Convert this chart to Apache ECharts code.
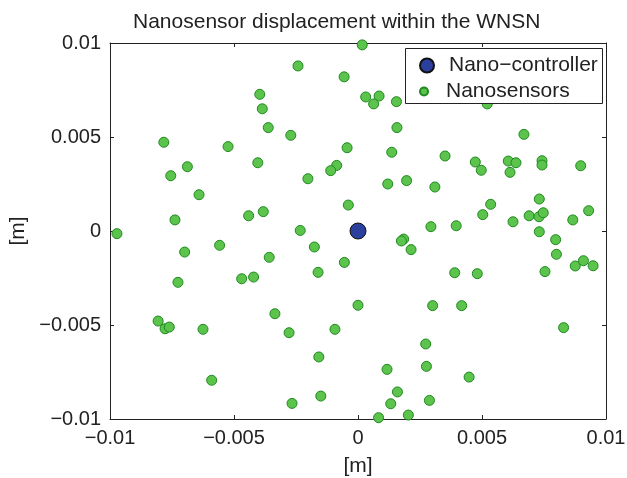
<!DOCTYPE html>
<html>
<head>
<meta charset="utf-8">
<script src="https://cdn.jsdelivr.net/npm/echarts@6/dist/echarts.min.js"></script>
<style>html,body{margin:0;padding:0;background:#fff;}#c{width:627px;height:478px;}</style>
</head>
<body>
<div id="c"></div>
<script>
var titleText = 'Nanosensor displacement within the WNSN';
var seriesNames = ['Nano\u2212controller', 'Nanosensors'];
var xTickLabels = ['\u22120.01', '\u22120.005', '0', '0.005', '0.01'];
var yTickLabels = ['\u22120.01', '\u22120.005', '0', '0.005', '0.01'];
var controllerX = [0];
var controllerY = [0];
var sensorX = [0.00017,-0.00242,-0.00056,-0.00396,-0.00386,-0.00362,-0.00271,-0.00783,-0.00524,-0.00044,
  -0.00688,-0.00404,-0.00086,-0.0011,-0.00755,-0.00202,-0.00641,-0.00039,-0.00738,-0.00441,
  -0.00382,-0.00233,-0.00972,0.00031,0.00085,0.00063,0.00155,0.00521,0.00157,0.00669,
  0.00136,0.00351,0.00473,0.00497,0.00606,0.00637,0.00613,0.00742,0.00742,0.00898,
  0.0012,0.00196,0.0031,0.00731,0.00535,0.00503,0.00625,0.0069,0.0073,0.00747,
  0.00866,0.0093,0.00294,0.00396,0.00731,0.00797,0.008,0.00754,0.00876,0.00909,
  0.00948,0.00184,0.00175,0.00214,0.0039,0.00481,0.0,0.00301,0.00418,0.00829,
  0.00273,0.00276,0.00117,0.00448,0.00159,0.00288,0.00132,0.00203,0.00083,-0.00699,
  -0.00558,-0.00176,-0.00358,-0.00055,-0.00726,-0.00469,-0.00421,-0.00161,-0.00335,-0.00806,
  -0.00778,-0.00761,-0.00625,-0.00278,-0.00093,-0.00158,-0.0059,-0.0015,-0.00266];
var sensorY = [0.0099,0.00878,0.0082,0.00727,0.0065,0.0055,0.00509,0.00472,0.00449,0.00443,
  0.00342,0.00363,0.00349,0.00321,0.00294,0.00278,0.00193,0.00138,0.00059,0.00081,
  0.00103,0.00003,-0.00014,0.00713,0.00718,0.00676,0.00688,0.00676,0.0055,0.00514,
  0.00419,0.00399,0.00367,0.00323,0.00372,0.00363,0.00312,0.00374,0.00351,0.00347,
  0.0025,0.00268,0.00234,0.0017,0.00142,0.00087,0.00049,0.00081,0.00076,0.00097,
  0.00059,0.00108,0.00023,0.00028,-0.00004,-0.00046,-0.00124,-0.00216,-0.00186,-0.00158,
  -0.00185,-0.00043,-0.00053,-0.00099,-0.00222,-0.00227,-0.00395,-0.00397,-0.00397,-0.00514,
  -0.00601,-0.0072,-0.00736,-0.00777,-0.00856,-0.00901,-0.00919,-0.00979,-0.00993,-0.00112,
  -0.00076,-0.00085,-0.0014,-0.00167,-0.00273,-0.00254,-0.00245,-0.0022,-0.0044,-0.00479,
  -0.0052,-0.00511,-0.00523,-0.00541,-0.00523,-0.0067,-0.00794,-0.00878,-0.00917];

function zip(a, b) { return a.map(function (v, i) { return [v, b[i]]; }); }
function labelFor(list) {
  return function (v) {
    var idx = Math.round((v + 0.01) / 0.005);
    return list[idx] !== undefined ? list[idx] : '';
  };
}

var FONT = 'Liberation Sans, Arial, Helvetica, sans-serif';
var frameLine = { show: true, onZero: false, lineStyle: { color: '#222', width: 1 } };
var tickIn = { show: true, inside: true, length: 4, lineStyle: { color: '#222' } };

var chart = echarts.init(document.getElementById('c'), null, { renderer: 'canvas' });
chart.setOption({
  animation: false,
  backgroundColor: '#fff',
  title: {
    text: titleText, left: 133, top: 12, padding: 0,
    textStyle: { fontFamily: FONT, fontSize: 21, fontWeight: 'normal', color: '#222' }
  },
  grid: { left: 110, top: 43, width: 496, height: 376, containLabel: false, outerBoundsMode: 'none' },
  xAxis: [{
    type: 'value', min: -0.01, max: 0.01, interval: 0.005, position: 'bottom',
    name: '[m]', nameLocation: 'middle', nameGap: 37,
    nameTextStyle: { fontFamily: FONT, fontSize: 21, color: '#222' },
    axisLine: frameLine, axisTick: tickIn, splitLine: { show: false },
    axisLabel: { formatter: labelFor(xTickLabels), margin: 9, fontFamily: FONT, fontSize: 20, color: '#222' }
  }, {
    type: 'value', min: -0.01, max: 0.01, interval: 0.005, position: 'top',
    axisLine: frameLine, axisTick: tickIn, splitLine: { show: false }, axisLabel: { show: false }
  }],
  yAxis: [{
    type: 'value', min: -0.01, max: 0.01, interval: 0.005, position: 'left',
    name: '[m]', nameLocation: 'middle', nameGap: 71, nameRotate: 90,
    nameTextStyle: { fontFamily: FONT, fontSize: 21, color: '#222' },
    axisLine: frameLine, axisTick: tickIn, splitLine: { show: false },
    axisLabel: { formatter: labelFor(yTickLabels), margin: 9, fontFamily: FONT, fontSize: 20, color: '#222' }
  }, {
    type: 'value', min: -0.01, max: 0.01, interval: 0.005, position: 'right',
    axisLine: frameLine, axisTick: tickIn, splitLine: { show: false }, axisLabel: { show: false }
  }],
  legend: [{
    data: [{ name: seriesNames[0], icon: 'circle' }],
    orient: 'vertical', left: 419, top: 55, padding: 0,
    itemWidth: 34, itemHeight: 14, z: 20,
    textStyle: { fontFamily: FONT, fontSize: 21, color: '#222' }
  }, {
    data: [{ name: seriesNames[1], icon: 'circle' }],
    orient: 'vertical', left: 419, top: 81, padding: 0,
    itemWidth: 34, itemHeight: 8, z: 20,
    textStyle: { fontFamily: FONT, fontSize: 21, color: '#222' }
  }],
  graphic: [{
    type: 'rect', left: 405, top: 48, z: 10,
    shape: { width: 197, height: 55 },
    style: { fill: '#fff', stroke: '#222', lineWidth: 1 }
  }],
  series: [{
    name: seriesNames[1], type: 'scatter', clip: false, z: 2,
    symbol: 'circle', symbolSize: 10,
    itemStyle: { color: '#5cc44c', borderColor: '#1f8a1f', borderWidth: 1, opacity: 1 },
    data: zip(sensorX, sensorY)
  }, {
    name: seriesNames[0], type: 'scatter', clip: false, z: 3,
    symbol: 'circle', symbolSize: 16,
    itemStyle: { color: '#2b3f9c', borderColor: '#111', borderWidth: 1, opacity: 1 },
    data: zip(controllerX, controllerY)
  }]
});
</script>
</body>
</html>
